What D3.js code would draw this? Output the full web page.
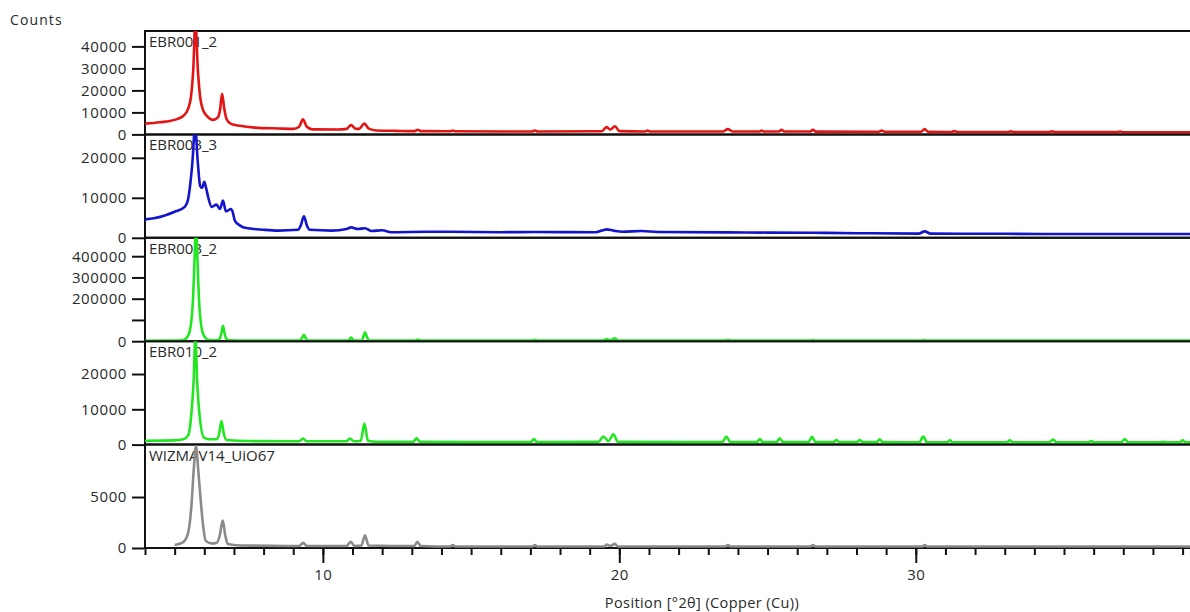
<!DOCTYPE html>
<html>
<head>
<meta charset="utf-8">
<script src="https://cdn.jsdelivr.net/npm/d3@7"></script>
<style>
  html, body { margin: 0; padding: 0; background: #fff; }
  svg { display: block; }
  text { font-family: "Open Sans", "Noto Sans", sans-serif; fill: #2a2a2a; }
</style>
</head>
<body>
<svg id="chart" width="1190" height="612"></svg>
<script>
// ---------------- DATA ----------------
const xDomain = [4, 39.25];
const xMajorTicks = [10, 20, 30];
const xMinorTicks = d3.range(4, 40, 1);

const panelNames = ["EBR001_2", "EBR003_3", "EBR003_2", "EBR010_2", "WIZMAV14_UiO67"];
const panelColors = ["#e31414", "#1414cc", "#22e622", "#22e622", "#8a8a8a"];
const panelYMax = [47000, 25850, 486600, 29300, 10140];
const panelYTicks = [
  [0, 10000, 20000, 30000, 40000],
  [0, 10000, 20000],
  [0, 100000, 200000, 300000, 400000],
  [0, 10000, 20000],
  [0, 5000]
];
const panelYTickLabels = [
  ["0", "10000", "20000", "30000", "40000"],
  ["0", "10000", "20000"],
  ["0", "", "200000", "300000", "400000"],
  ["0", "10000", "20000"],
  ["0", "5000"]
];

const seriesEBR001_2 = [
  [4.0, 4900], [4.5, 5500], [5.0, 6600], [5.3, 8500], [5.45, 11500], [5.55, 17000], [5.63, 30000],
  [5.7, 52000], [5.78, 30000], [5.86, 17000], [5.96, 11000], [6.1, 8200], [6.3, 6600], [6.45, 7600],
  [6.53, 11000], [6.6, 18500], [6.67, 12000], [6.75, 7000], [6.9, 4800], [7.2, 3900], [7.7, 3100],
  [8.5, 2700], [9.0, 2500], [9.2, 3500], [9.33, 6900], [9.45, 3600], [9.65, 2300], [10.5, 2200],
  [10.8, 2500], [10.95, 4200], [11.1, 2600], [11.22, 2500], [11.4, 4900], [11.55, 2600], [11.8, 1800],
  [12.5, 1600], [13.1, 1500], [13.2, 2100], [13.3, 1500], [14.3, 1400], [14.38, 1800], [14.46, 1400],
  [17.05, 1300], [17.15, 1800], [17.25, 1300], [19.4, 1400], [19.57, 3300], [19.7, 2200], [19.85, 3700],
  [20.0, 1500], [20.85, 1300], [20.95, 1700], [21.05, 1300], [23.5, 1300], [23.66, 2400], [23.82, 1300],
  [24.72, 1300], [24.8, 1700], [24.88, 1300], [25.38, 1300], [25.47, 2100], [25.56, 1300],
  [26.43, 1300], [26.53, 2100], [26.63, 1250], [28.75, 1200], [28.85, 1700], [28.95, 1200],
  [30.18, 1200], [30.3, 2400], [30.42, 1150], [31.2, 1100], [31.3, 1500], [31.4, 1100],
  [33.1, 1100], [33.2, 1400], [33.3, 1050], [34.5, 1050], [34.6, 1400], [34.7, 1050],
  [36.8, 1050], [36.9, 1300], [37.0, 1000], [39.25, 1000]
];

const seriesEBR003_3 = [
  [4.0, 4600], [4.3, 4900], [4.67, 5600], [5.0, 6500], [5.35, 7800], [5.45, 9500], [5.52, 13000],
  [5.6, 19000], [5.69, 28000], [5.78, 19000], [5.86, 13000], [5.93, 12500], [6.0, 14000], [6.06, 12500],
  [6.13, 10200], [6.25, 7700], [6.41, 8300], [6.53, 7200], [6.63, 9300], [6.73, 6600], [6.9, 7200],
  [6.96, 6400], [7.03, 4300], [7.2, 3100], [7.37, 2500], [8.0, 2000], [8.49, 1800], [9.16, 2000],
  [9.26, 3200], [9.36, 5400], [9.46, 3100], [9.56, 2000], [10.3, 1800], [10.8, 2200], [10.95, 2600],
  [11.18, 2200], [11.42, 2400], [11.65, 1700], [12.0, 1900], [12.3, 1400], [13.5, 1500], [14.3, 1500],
  [16.0, 1400], [17.15, 1450], [19.2, 1400], [19.45, 1900], [19.57, 2100], [19.8, 1800], [20.1, 1500],
  [20.75, 1700], [21.3, 1450], [23.6, 1350], [25.0, 1300], [26.5, 1250], [28.0, 1150], [30.1, 1050],
  [30.3, 1600], [30.5, 1050], [33.0, 1000], [35.0, 950], [37.0, 950], [39.25, 950]
];

const seriesEBR003_2 = [
  [4.0, 2000], [5.0, 3000], [5.3, 6000], [5.45, 25000], [5.55, 80000], [5.62, 200000], [5.67, 380000],
  [5.72, 560000], [5.77, 380000], [5.82, 200000], [5.89, 80000], [5.99, 25000], [6.15, 6000],
  [6.4, 4000], [6.52, 12000], [6.58, 40000], [6.63, 73000], [6.68, 40000], [6.74, 12000], [6.85, 4000],
  [7.5, 2500], [9.2, 2500], [9.3, 15000], [9.36, 30000], [9.42, 15000], [9.5, 2500], [10.85, 2500],
  [10.95, 17000], [11.05, 2500], [11.3, 3000], [11.37, 22000], [11.42, 42000], [11.48, 22000],
  [11.56, 3000], [13.1, 2500], [13.2, 8000], [13.3, 2500], [17.05, 2500], [17.15, 6000], [17.25, 2500],
  [19.45, 2500], [19.57, 10000], [19.7, 4000], [19.85, 14000], [19.97, 2500], [23.56, 2500],
  [23.66, 6000], [23.76, 2500], [26.43, 2500], [26.53, 5000], [26.63, 2500], [30.2, 2500],
  [30.3, 5000], [30.4, 2500], [39.25, 2500]
];

const seriesEBR010_2 = [
  [4.0, 1100], [5.0, 1200], [5.29, 1500], [5.46, 2700], [5.57, 9300], [5.64, 18000], [5.7, 31000],
  [5.76, 18000], [5.83, 9300], [5.99, 2000], [6.2, 1500], [6.41, 1500], [6.5, 3000], [6.58, 6700],
  [6.66, 3000], [6.75, 1300], [7.5, 1000], [9.2, 950], [9.33, 1700], [9.45, 950], [10.8, 950],
  [10.91, 1700], [11.05, 950], [11.28, 1100], [11.4, 6000], [11.52, 1100], [11.8, 800], [13.05, 800],
  [13.16, 1800], [13.27, 800], [15.0, 700], [17.02, 700], [17.12, 1600], [17.22, 700], [19.3, 800],
  [19.46, 2300], [19.63, 1000], [19.8, 2900], [19.95, 800], [23.48, 700], [23.61, 2300], [23.74, 700],
  [24.64, 700], [24.74, 1600], [24.84, 700], [25.3, 700], [25.41, 1800], [25.52, 700], [26.38, 700],
  [26.5, 2200], [26.62, 700], [27.22, 700], [27.32, 1300], [27.42, 700], [28.01, 700], [28.11, 1300],
  [28.21, 700], [28.68, 700], [28.78, 1500], [28.88, 700], [30.12, 650], [30.25, 2300], [30.38, 650],
  [31.05, 650], [31.15, 1200], [31.25, 650], [33.07, 650], [33.17, 1200], [33.27, 650], [34.5, 650],
  [34.63, 1400], [34.76, 650], [35.82, 650], [35.92, 1000], [36.02, 650], [36.93, 650], [37.05, 1600],
  [37.17, 650], [38.24, 650], [38.34, 800], [38.44, 650], [38.9, 650], [39.0, 1200], [39.1, 650],
  [39.25, 650]
];

const seriesWIZMAV14_UiO67 = [
  [5.0, 300], [5.25, 500], [5.4, 1000], [5.5, 2200], [5.57, 4300], [5.64, 7500], [5.72, 10000],
  [5.8, 7500], [5.89, 4300], [5.96, 2200], [6.05, 700], [6.25, 450], [6.41, 500], [6.52, 1200],
  [6.62, 2700], [6.71, 1200], [6.79, 400], [7.2, 250], [9.2, 200], [9.34, 500], [9.46, 200],
  [10.8, 200], [10.94, 620], [11.07, 200], [11.3, 250], [11.42, 1240], [11.54, 250], [13.08, 200],
  [13.19, 600], [13.3, 200], [14.3, 150], [14.38, 300], [14.46, 150], [17.07, 150], [17.15, 300],
  [17.23, 150], [19.5, 150], [19.57, 350], [19.7, 200], [19.85, 400], [19.95, 150], [23.58, 150],
  [23.66, 300], [23.74, 150], [26.45, 150], [26.53, 300], [26.61, 150], [30.22, 150], [30.3, 300],
  [30.38, 150], [39.25, 150]
];

const panelSeries = [seriesEBR001_2, seriesEBR003_3, seriesEBR003_2, seriesEBR010_2, seriesWIZMAV14_UiO67];

// ---------------- LAYOUT ----------------
const svg = d3.select("#chart");
const W = 1190;
const left = 145, right = 1190;
const plotTop = 31, plotBottom = 548;
const nP = panelNames.length;
const pH = (plotBottom - plotTop) / nP;

const x = d3.scaleLinear().domain(xDomain).range([left, right]);

const defs = svg.append("defs");

// y-axis title
svg.append("text").attr("x", 10).attr("y", 25)
  .style("font-size", "14px").style("letter-spacing", "1.1px").text("Counts");

panelNames.forEach((name, i) => {
  const top = plotTop + i * pH;
  const bottom = top + pH;
  const y = d3.scaleLinear().domain([0, panelYMax[i]]).range([bottom, top]);
  const g = svg.append("g");

  // frame lines
  g.append("line").attr("x1", left).attr("x2", W).attr("y1", top).attr("y2", top)
    .attr("stroke", "#111").attr("stroke-width", 2);
  g.append("line").attr("x1", left).attr("x2", W).attr("y1", bottom).attr("y2", bottom)
    .attr("stroke", "#111").attr("stroke-width", 2);
  g.append("line").attr("x1", left).attr("x2", left).attr("y1", top - 1).attr("y2", bottom + 1)
    .attr("stroke", "#111").attr("stroke-width", 2);

  // y axis
  const yAxis = d3.axisLeft(y)
    .tickValues(panelYTicks[i])
    .tickSize(12)
    .tickPadding(5)
    .tickFormat((d, k) => panelYTickLabels[i][k]);
  const ya = g.append("g").attr("transform", `translate(${left - 1},0)`).call(yAxis);
  ya.select(".domain").remove();
  ya.selectAll(".tick line").attr("stroke", "#111").attr("stroke-width", 2);
  ya.selectAll(".tick text").style("font-size", "15px").style("letter-spacing", "0.6px")
    .style("font-family", '"Open Sans", "Noto Sans", sans-serif').attr("fill", "#2a2a2a");

  // panel label (beneath the trace)
  g.append("text").attr("x", 149).attr("y", top + 16)
    .style("font-size", "15px").text(name);

  // clip
  const cid = "clip" + i;
  defs.append("clipPath").attr("id", cid).append("rect")
    .attr("x", left).attr("y", top).attr("width", W - left).attr("height", pH + 1.5);

  const line = d3.line().x(d => x(d[0])).y(d => y(d[1])).curve(d3.curveMonotoneX);
  g.append("path").datum(panelSeries[i])
    .attr("clip-path", `url(#${cid})`)
    .attr("fill", "none").attr("stroke", panelColors[i]).attr("stroke-width", 2.6)
    .attr("stroke-linejoin", "round").attr("d", line);
});

// x axis
const xMinor = d3.axisBottom(x).tickValues(xMinorTicks).tickSize(7).tickFormat("");
const xm = svg.append("g").attr("transform", `translate(0,${plotBottom})`).call(xMinor);
xm.select(".domain").remove();
xm.selectAll(".tick line").attr("stroke", "#111").attr("stroke-width", 2);

const xMajor = d3.axisBottom(x).tickValues(xMajorTicks).tickSize(15).tickPadding(6).tickFormat(d3.format("d"));
const xM = svg.append("g").attr("transform", `translate(0,${plotBottom})`).call(xMajor);
xM.select(".domain").remove();
xM.selectAll(".tick line").attr("stroke", "#111").attr("stroke-width", 2);
xM.selectAll(".tick text").style("font-size", "15px").style("letter-spacing", "0.5px")
  .style("font-family", '"Open Sans", "Noto Sans", sans-serif').attr("fill", "#2a2a2a");

svg.append("text").attr("x", 702).attr("y", 608).attr("text-anchor", "middle")
  .style("font-size", "14.5px").style("letter-spacing", "0.4px").text("Position [°2θ] (Copper (Cu))");
</script>
</body>
</html>
